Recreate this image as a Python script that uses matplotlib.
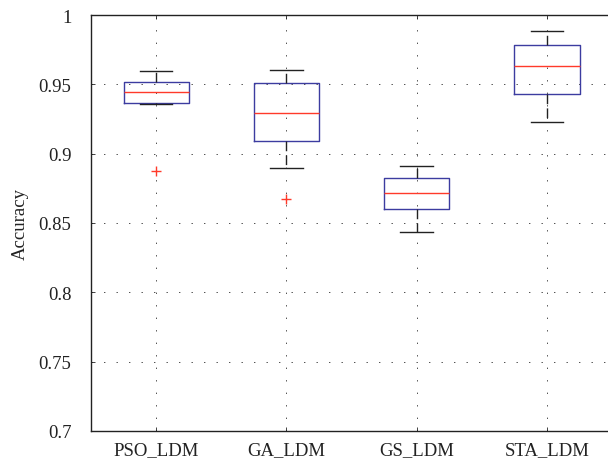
import matplotlib
matplotlib.use('Agg')
import matplotlib.pyplot as plt

# summary values
labels = ['PSO_LDM', 'GA_LDM', 'GS_LDM', 'STA_LDM']
whislo = [0.9355, 0.8897, 0.8433, 0.9231]
q1 = [0.9365, 0.9094, 0.8599, 0.9433]
med = [0.9445, 0.9291, 0.8714, 0.9632]
q3 = [0.9520, 0.9512, 0.8822, 0.9786]
whishi = [0.9597, 0.9606, 0.8913, 0.9885]
outliers = [[0.8875], [0.8671], [], []]

plt.rcParams['font.family'] = ['Liberation Serif', 'DejaVu Serif']
plt.rcParams['lines.scale_dashes'] = False

stats = []
for i in range(len(labels)):
    stats.append({'label': labels[i], 'whislo': whislo[i], 'q1': q1[i], 'med': med[i],
                  'q3': q3[i], 'whishi': whishi[i], 'fliers': outliers[i]})

fig = plt.figure(figsize=(6.08, 4.64), dpi=100)
ax = fig.add_axes([0.1497, 0.069, 0.857, 0.8965])

ax.bxp(stats, widths=0.5, capwidths=0.25,
       boxprops={'color': '#3c3ca0', 'linewidth': 1.0},
       medianprops={'color': '#ff3a2a', 'linewidth': 1.0},
       whiskerprops={'color': '#222222', 'linewidth': 1.0, 'linestyle': (0, (7, 3))},
       capprops={'color': '#222222', 'linewidth': 1.0},
       flierprops={'marker': '+', 'markeredgecolor': '#ff3a2a', 'markersize': 7,
                   'markeredgewidth': 1.0, 'linestyle': 'none'})

ax.set_xlim(0.5, 4.5)
ax.set_ylim(0.7, 1.0)
ax.set_yticks([0.7, 0.75, 0.8, 0.85, 0.9, 0.95, 1.0])
ax.set_yticklabels(['0.7', '0.75', '0.8', '0.85', '0.9', '0.95', '1'])
ax.grid(True, color='#333333', linewidth=0.6, linestyle=(0, (1, 8)))
ax.set_axisbelow(True)
ax.tick_params(direction='in', length=3, top=True, right=True, labelsize=13.5,
               colors='#222222', width=0.6)
ax.tick_params(axis='y', pad=14)
ax.tick_params(axis='x', pad=7)
for s in ax.spines.values():
    s.set_linewidth(1.0)
    s.set_color('#222222')
ax.set_ylabel('Accuracy', fontsize=13.5, color='#222222', labelpad=7)

fig.savefig('out.png', dpi=100)
